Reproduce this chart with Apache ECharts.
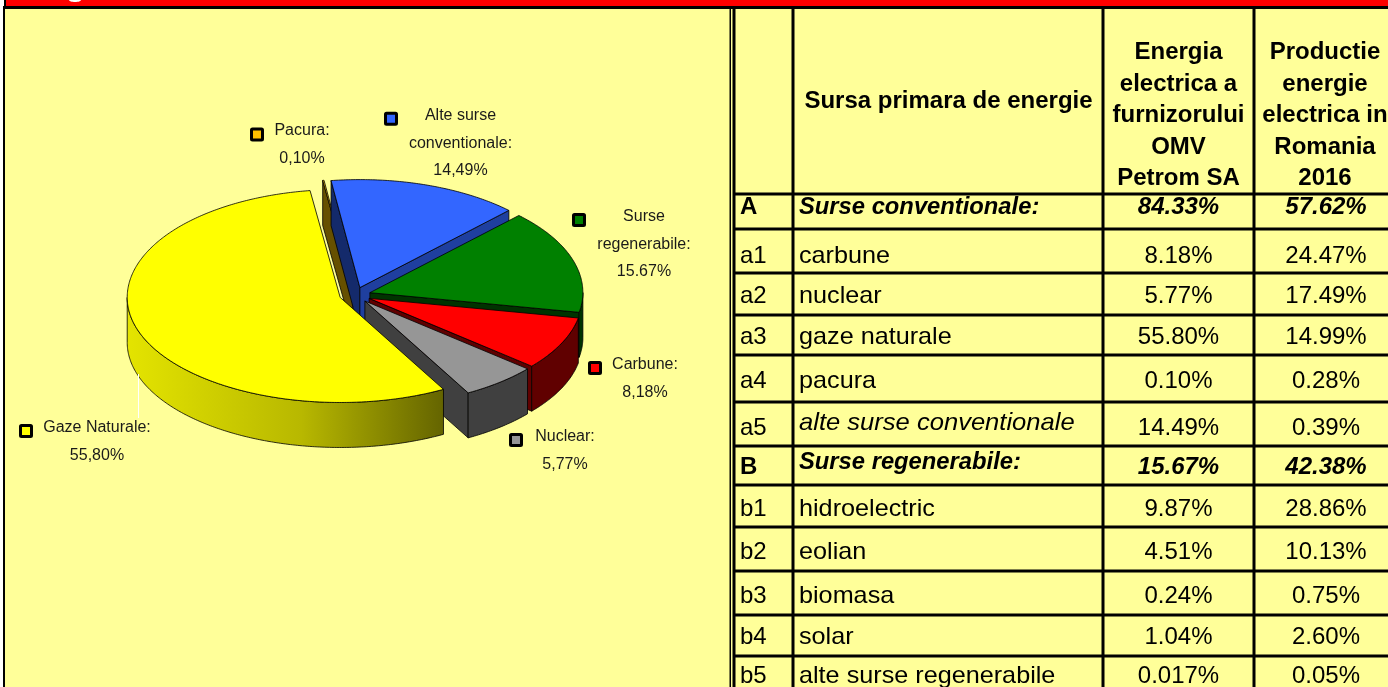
<!DOCTYPE html>
<html>
<head>
<meta charset="utf-8">
<style>
    html, body { margin: 0; padding: 0; background: #fff; }
    #chart { width: 1388px; height: 687px; }
</style>
<script src="https://cdn.jsdelivr.net/npm/echarts@6/dist/echarts.min.js"></script>
</head>
<body>
<div id="chart"></div>
<script>
// pie, clockwise, starting from the front-right edge of the yellow slice
const sliceNames = ['Gaze Naturale', 'Pacura', 'Alte surse conventionale', 'Surse regenerabile', 'Carbune', 'Nuclear'];
const sliceValues = [55.80, 0.10, 14.49, 15.67, 8.18, 5.77];
const sliceLabels = [
    ['Gaze Naturale:', '55,80%'],
    ['Pacura:', '0,10%'],
    ['Alte surse', 'conventionale:', '14,49%'],
    ['Surse', 'regenerabile:', '15.67%'],
    ['Carbune:', '8,18%'],
    ['Nuclear:', '5,77%']
];

// table
const rowCodes = ['A', 'a1', 'a2', 'a3', 'a4', 'a5', 'B', 'b1', 'b2', 'b3', 'b4', 'b5'];
const rowNames = ['Surse conventionale:', 'carbune', 'nuclear', 'gaze naturale', 'pacura', 'alte surse conventionale',
    'Surse regenerabile:', 'hidroelectric', 'eolian', 'biomasa', 'solar', 'alte surse regenerabile'];
const omvValues = ['84.33%', '8.18%', '5.77%', '55.80%', '0.10%', '14.49%', '15.67%', '9.87%', '4.51%', '0.24%', '1.04%', '0.017%'];
const romaniaValues = ['57.62%', '24.47%', '17.49%', '14.99%', '0.28%', '0.39%', '42.38%', '28.86%', '10.13%', '0.75%', '2.60%', '0.05%'];
const headerName = 'Sursa primara de energie';
const headerOmv = ['Energia', 'electrica a', 'furnizorului', 'OMV', 'Petrom SA'];
const headerRomania = ['Productie', 'energie', 'electrica in', 'Romania', '2016'];

// pie look
const START_ANGLE = 151;
const CX = 355, CY = 295, RX = 213, RY_BACK = 108, RY_FRONT = 105, DEPTH = 45, EXPLODE = 15.6;
const topColors = ['#ffff00', '#ffc000', '#3366ff', '#008000', '#ff0000', '#969696'];
const endWallColors = ['#666600', '#665000', '#1f3f9f', '#003300', '#600000', '#404040'];
const startWallColors = ['#666600', '#665000', '#142a6b', '#003300', '#600000', '#404040'];
const drawOrder = [1, 2, 3, 4, 5, 0];
const labelLayout = [
    { cx: 97, ys: [428, 456], key: [26, 431] },
    { cx: 302, ys: [131, 159], key: [257, 134.5] },
    { cx: 460.5, ys: [116, 144, 171], key: [391, 118.7] },
    { cx: 644, ys: [217, 245, 272], key: [579, 220] },
    { cx: 645, ys: [365, 393], key: [595, 368] },
    { cx: 565, ys: [437, 465], key: [516, 440] }
];

// table look
const hLines = [229, 273, 315, 355, 402, 446, 485, 527, 571, 615, 656];
const vLines = [793, 1103, 1254];
const nameY = [207, 256, 296, 337, 381, 423, 462, 509, 552, 596, 637, 676];
const valueY = [207, 256, 296, 337, 381, 428, 467, 509, 552, 596, 637, 676];
const headerY = [52, 84, 115, 147, 178];
const BG = '#ffff99';

// slice angles come from the values
const total = sliceValues.reduce((a, b) => a + b, 0);
let cursor = START_ANGLE;
const sliceAngles = sliceValues.map(v => {
    const a0 = cursor;
    cursor += v / total * 360;
    return [a0, cursor];
});

const rad = d => d * Math.PI / 180;

function renderSlice(params, api) {
    const i = api.value(1);
    const [a0, a1] = sliceAngles[i];
    const mid = (a0 + a1) / 2;
    const ax = CX + EXPLODE * Math.sin(rad(mid));
    const ay = CY - EXPLODE * 0.5 * Math.cos(rad(mid));
    const rim = (a, h) => {
        const c = Math.cos(rad(a));
        return [ax + RX * Math.sin(rad(a)), ay - (c > 0 ? RY_BACK : RY_FRONT) * c + (h || 0)];
    };
    const arc = (from, to, h) => {
        const pts = [];
        const n = Math.max(2, Math.ceil(Math.abs(to - from) * 1.5));
        for (let k = 0; k <= n; k++) pts.push(rim(from + (to - from) * k / n, h));
        return pts;
    };
    const children = [];
    const poly = (points, fill) => children.push({
        type: 'polygon',
        shape: { points: points },
        style: { fill: fill, stroke: '#000', lineWidth: 0.8 }
    });

    if (Math.sin(rad(a0)) < 0) {
        poly([[ax, ay], rim(a0), rim(a0, DEPTH), [ax, ay + DEPTH]], startWallColors[i]);
    }
    if (Math.sin(rad(a1)) > 0) {
        poly([[ax, ay], rim(a1), rim(a1, DEPTH), [ax, ay + DEPTH]], endWallColors[i]);
    }
    // slices past the top run over 360 degrees
    const wrap = a0 >= 360 ? 360 : 0;
    const lo = Math.max(a0 - wrap, 90), hi = Math.min(a1 - wrap, 270);
    if (hi > lo) {
        const side = i === 0
            ? new echarts.graphic.LinearGradient(0, 0, 1, 0, [
                { offset: 0, color: '#e4e400' },
                { offset: 0.55, color: '#b8b800' },
                { offset: 1, color: '#646400' }
            ])
            : endWallColors[i];
        poly(arc(lo, hi).concat(arc(hi, lo, DEPTH)), side);
    }
    poly([[ax, ay]].concat(arc(a0, a1)), topColors[i]);

    // key and label
    const lay = labelLayout[i];
    children.push({
        type: 'rect',
        shape: { x: lay.key[0] - 5.5, y: lay.key[1] - 5.5, width: 11, height: 11, r: 1 },
        style: { fill: topColors[i], stroke: '#000', lineWidth: 3 }
    });
    sliceLabels[i].forEach((line, k) => children.push({
        type: 'text',
        style: {
            text: line, x: lay.cx, y: lay.ys[k], align: 'center', verticalAlign: 'middle',
            fontFamily: 'Liberation Sans', fontSize: 16, fill: '#1a1a1a'
        }
    }));
    return { type: 'group', children: children };
}

function text(str, x, y, opts, scaleX) {
    return {
        type: 'text',
        z: 5,
        x: x,
        y: y,
        scaleX: scaleX || 1,
        style: Object.assign({
            text: str, x: 0, y: 0, verticalAlign: 'middle', align: 'left',
            fontFamily: 'Liberation Sans', fontSize: 24, fill: '#000'
        }, opts || {})
    };
}

function bar(x, y, w, h, fill) {
    return { type: 'rect', z: 1, shape: { x: x, y: y, width: w, height: h }, style: { fill: fill || '#000' } };
}

function tableElements() {
    const els = [];
    els.push(bar(4, 0, 2, 8));
    els.push(bar(6, 0, 1382, 6, '#ff0000'));
    els.push(bar(3, 6, 1385, 3));
    els.push(bar(3, 6, 2, 681));
    els.push(bar(5, 9, 1383, 678, BG));
    els.push(bar(729.5, 8, 1.5, 679));
    els.push(bar(732.5, 8, 3, 679));
    vLines.forEach(x => els.push(bar(x - 1.5, 8, 3, 679)));
    els.push(bar(733, 192.5, 655, 3));
    hLines.forEach(y => els.push(bar(733, y - 1.5, 655, 3)));
    els.push({ type: 'ellipse', z: 2, shape: { cx: 75, cy: 0, rx: 6, ry: 2 }, style: { fill: '#fff' } });

    // leader line of the big slice
    els.push({ type: 'line', z: 3, shape: { x1: 138.5, y1: 374, x2: 138.5, y2: 418 }, style: { stroke: '#fff', lineWidth: 1 } });

    const head = { fontWeight: 'bold', fontSize: 24, align: 'center' };
    els.push(text(headerName, 948.5, 101, head));
    headerOmv.forEach((s, k) => els.push(text(s, 1178.5, headerY[k], head)));
    headerRomania.forEach((s, k) => els.push(text(s, 1325, headerY[k], head)));

    rowCodes.forEach((code, r) => {
        const group = code === 'A' || code === 'B';
        const nameStyle = group ? { fontWeight: 'bold', fontStyle: 'italic' }
            : (code === 'a5' ? { fontStyle: 'italic' } : {});
        const nameScale = group ? 0.99 : (code === 'a5' ? 1.065 : 1.05);
        els.push(text(code, 740, valueY[r], group ? { fontWeight: 'bold' } : {}));
        els.push(text(rowNames[r], 799, nameY[r], nameStyle, nameScale));
        const valStyle = Object.assign({ align: 'center' }, group ? { fontWeight: 'bold', fontStyle: 'italic' } : {});
        els.push(text(omvValues[r], 1178.5, valueY[r], valStyle));
        els.push(text(romaniaValues[r], 1326, valueY[r], valStyle));
    });
    return els;
}

const chart = echarts.init(document.getElementById('chart'));
chart.setOption({
    animation: false,
    backgroundColor: '#fff',
    tooltip: { show: false },
    graphic: { elements: tableElements() },
    series: [{
        type: 'custom',
        name: 'Sursa primara de energie',
        coordinateSystem: 'none',
        silent: true,
        z: 2,
        renderItem: renderSlice,
        data: drawOrder.map(i => ({ name: sliceNames[i], value: [sliceValues[i], i] }))
    }]
});
</script>
</body>
</html>
